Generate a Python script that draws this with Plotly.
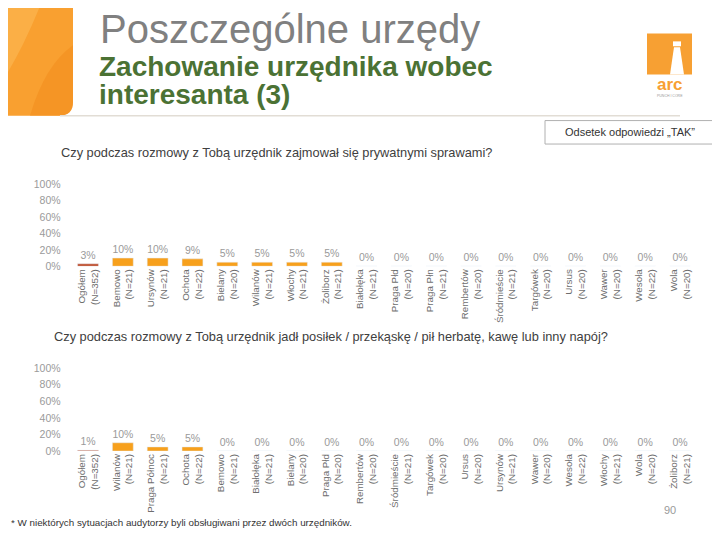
import plotly.graph_objects as go

W, H = 720, 540
OFF = 8  # page body margin around the figure
def px(x): return (x - OFF) / W
def py(y): return 1 - (y - OFF) / H

# ---- data ----
cats1 = ["Ogółem<br>(N=352)", "Bemowo<br>(N=21)", "Ursynów<br>(N=21)", "Ochota<br>(N=22)",
         "Bielany<br>(N=20)", "Wilanów<br>(N=21)", "Włochy<br>(N=21)", "Żoliborz<br>(N=21)",
         "Białołęka<br>(N=21)", "Praga Płd<br>(N=20)", "Praga Płn<br>(N=21)", "Rembertów<br>(N=20)",
         "Śródmieście<br>(N=21)", "Targówek<br>(N=20)", "Ursus<br>(N=20)", "Wawer<br>(N=20)",
         "Wesoła<br>(N=22)", "Wola<br>(N=20)"]
vals1 = [3, 10, 10, 9, 5, 5, 5, 5, 0, 0, 0, 0, 0, 0, 0, 0, 0, 0]

cats2 = ["Ogółem<br>(N=352)", "Wilanów<br>(N=21)", "Praga Północ<br>(N=21)", "Ochota<br>(N=22)",
         "Bemowo<br>(N=21)", "Białołęka<br>(N=21)", "Bielany<br>(N=20)", "Praga Płd<br>(N=20)",
         "Rembertów<br>(N=20)", "Śródmieście<br>(N=21)", "Targówek<br>(N=20)", "Ursus<br>(N=20)",
         "Ursynów<br>(N=21)", "Wawer<br>(N=20)", "Wesoła<br>(N=22)", "Włochy<br>(N=21)",
         "Wola<br>(N=20)", "Żoliborz<br>(N=21)"]
vals2 = [1, 10, 5, 5, 0, 0, 0, 0, 0, 0, 0, 0, 0, 0, 0, 0, 0, 0]

yticks = [0, 20, 40, 60, 80, 100]
ytick_text = [f"{v}%" for v in yticks]

ORANGE = "#F7A01C"
DARK = "#BE4A28"
FONT = "Liberation Sans"

def colors(n):
    return [DARK] + [ORANGE] * (n - 1)

fig = go.Figure()
fig.add_trace(go.Bar(x=cats1, y=vals1, marker_color=colors(len(vals1)), width=0.6,
                     text=[f"{v}%" for v in vals1], textposition="outside",
                     textfont=dict(family=FONT, size=10.5, color="#9a9a9a"),
                     cliponaxis=False, xaxis="x", yaxis="y", showlegend=False))
fig.add_trace(go.Bar(x=cats2, y=vals2, marker_color=colors(len(vals2)), width=0.6,
                     text=[f"{v}%" for v in vals2], textposition="outside",
                     textfont=dict(family=FONT, size=10.5, color="#9a9a9a"),
                     cliponaxis=False, xaxis="x2", yaxis="y2", showlegend=False))

xdom = [px(70.6), px(697.4)]
xcommon = dict(domain=xdom, tickangle=-90, showgrid=False, zeroline=False, showline=False,
               tickfont=dict(family=FONT, size=9.8, color="#6e6e6e"), ticks="")
ycommon = dict(range=[0, 100], tickvals=yticks, ticktext=ytick_text, showgrid=False,
               zeroline=False, showline=False, ticklabelstandoff=9,
               tickfont=dict(family=FONT, size=10.5, color="#9a9a9a"))

fig.update_layout(
    width=W, height=H, autosize=False,
    margin=dict(l=0, r=0, t=0, b=0),
    paper_bgcolor="white", plot_bgcolor="white",
    font=dict(family=FONT),
    bargap=0.4,
    xaxis=dict(**xcommon, anchor="y"),
    yaxis=dict(**ycommon, domain=[py(266), py(182)], anchor="x"),
    xaxis2=dict(**xcommon, anchor="y2"),
    yaxis2=dict(**ycommon, domain=[py(455), py(370)], anchor="x2"),
)

shapes = []
# orange decoration at top left
shapes.append(dict(type="path", xref="paper", yref="paper",
                   path=f"M {px(0)},{py(0)} L {px(73)},{py(0)} L {px(73)},{py(98)} "
                        f"Q {px(73)},{py(112)} {px(59)},{py(112)} L {px(0)},{py(112)} Z",
                   fillcolor="#F9A030", line=dict(width=0), layer="below"))
shapes.append(dict(type="path", xref="paper", yref="paper",
                   path=f"M {px(0)},{py(0)} L {px(40)},{py(0)} Q {px(20)},{py(50)} {px(0)},{py(80)} Z",
                   fillcolor="#FBB955", opacity=0.6, line=dict(width=0), layer="below"))
shapes.append(dict(type="path", xref="paper", yref="paper",
                   path=f"M {px(30)},{py(112)} Q {px(45)},{py(60)} {px(73)},{py(40)} L {px(73)},{py(98)} "
                        f"Q {px(73)},{py(112)} {px(59)},{py(112)} Z",
                   fillcolor="#F28A1A", opacity=0.5, line=dict(width=0), layer="below"))
# header bottom line
shapes.append(dict(type="line", xref="paper", yref="paper", x0=px(60), x1=px(680),
                   y0=py(112), y1=py(112), line=dict(color="#e2ddd5", width=1.5)))
# box
shapes.append(dict(type="rect", xref="paper", yref="paper", x0=px(545), x1=px(714),
                   y0=py(141), y1=py(117), line=dict(color="#b0b0b0", width=1)))
# logo
shapes.append(dict(type="rect", xref="paper", yref="paper", x0=px(647), x1=px(692),
                   y0=py(70), y1=py(28), fillcolor="#F7A033", line=dict(width=0)))
shapes.append(dict(type="path", xref="paper", yref="paper",
                   path=f"M {px(674)},{py(42)} L {px(680)},{py(42)} L {px(684)},{py(70)} "
                        f"L {px(670)},{py(70)} Z",
                   fillcolor="white", line=dict(width=0)))
shapes.append(dict(type="path", xref="paper", yref="paper",
                   path=f"M {px(673)},{py(36)} L {px(681)},{py(36)} L {px(681)},{py(41)} "
                        f"L {px(673)},{py(41)} Z",
                   fillcolor="white", line=dict(width=0)))
fig.update_layout(shapes=shapes)

ann = []
def text(x, y, s, size, color, xanchor="left", bold=False):
    ann.append(dict(x=px(x), y=py(y), xref="paper", yref="paper", text=(f"<b>{s}</b>" if bold else s),
                    showarrow=False, xanchor=xanchor, yanchor="middle",
                    font=dict(family=FONT, size=size, color=color)))

text(98, 23, "Poszczególne urzędy", 40, "#808080")
text(97, 62, "Zachowanie urzędnika wobec", 28, "#4B7234", bold=True)
text(97, 90, "interesanta (3)", 28, "#4B7234", bold=True)
text(629.5, 129, "Odsetek odpowiedzi „TAK”", 11, "#333333", xanchor="center")
text(59, 150, "Czy podczas rozmowy z Tobą urzędnik zajmował się prywatnymi sprawami?", 12.8, "#404040")
text(52, 338, "Czy podczas rozmowy z Tobą urzędnik jadł posiłek / przekąskę / pił herbatę, kawę lub inny napój?", 12.8, "#404040")
text(9, 528, "* W niektórych sytuacjach audytorzy byli obsługiwani przez dwóch urzędników.", 9.8, "#333333")
text(670, 515, "90", 11, "#9a9a9a", xanchor="center")
text(670, 80, "<b>arc</b>", 17, "#F7A033", xanchor="center")
text(670, 92, "PUNCH I CORE", 3.5, "#999999", xanchor="center")
fig.update_layout(annotations=ann)

fig.write_html("out.html")
